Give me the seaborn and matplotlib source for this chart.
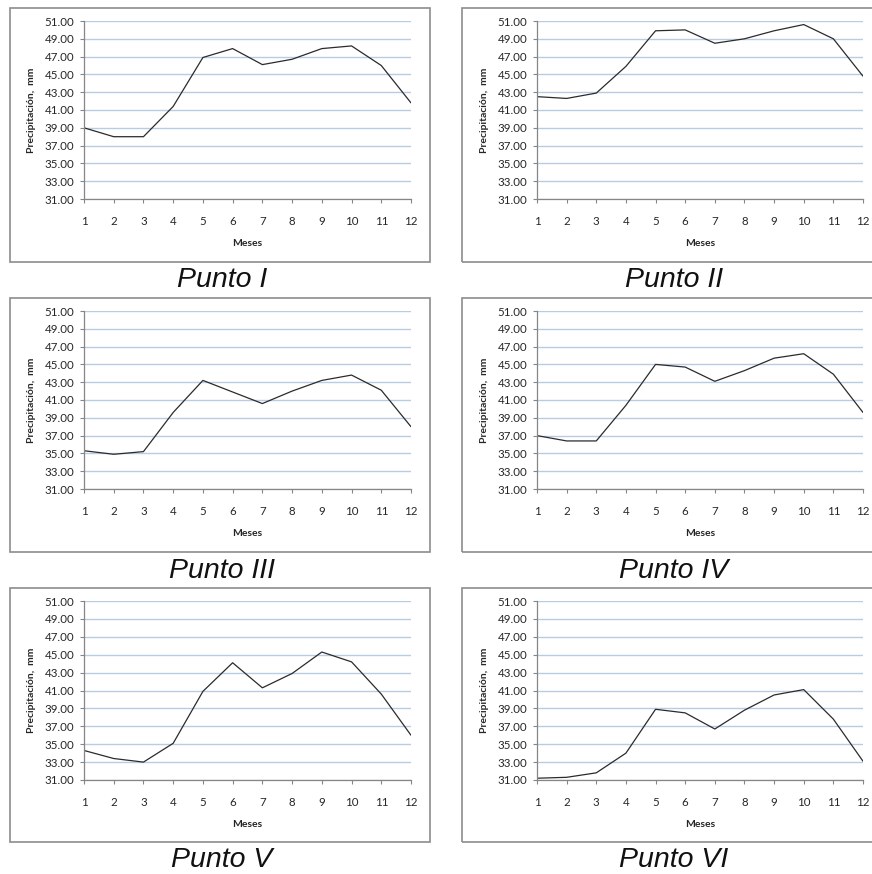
import matplotlib
import pandas as pd
import seaborn as sns
from matplotlib import pyplot as plt
from matplotlib.patches import Rectangle

matplotlib.use("Agg")

# monthly precipitation per station (mm)
meses = [1, 2, 3, 4, 5, 6, 7, 8, 9, 10, 11, 12]
punto_i = [39.0, 38.0, 38.0, 41.4, 46.9, 47.9, 46.1, 46.7, 47.9, 48.2, 46.0, 41.8]
punto_ii = [42.5, 42.3, 42.9, 45.9, 49.9, 50.0, 48.5, 49.0, 49.9, 50.6, 49.0, 44.8]
punto_iii = [35.3, 34.9, 35.2, 39.6, 43.2, 41.9, 40.6, 42.0, 43.2, 43.8, 42.1, 38.0]
punto_iv = [37.0, 36.4, 36.4, 40.4, 45.0, 44.7, 43.1, 44.3, 45.7, 46.2, 43.9, 39.6]
punto_v = [34.3, 33.4, 33.0, 35.1, 40.9, 44.1, 41.3, 42.9, 45.3, 44.2, 40.6, 36.0]
punto_vi = [31.2, 31.3, 31.8, 34.0, 38.9, 38.5, 36.7, 38.8, 40.5, 41.1, 37.8, 33.1]

titulos = ["Punto I", "Punto II", "Punto III", "Punto IV", "Punto V", "Punto VI"]
series = [punto_i, punto_ii, punto_iii, punto_iv, punto_v, punto_vi]
y_ticks = [31, 33, 35, 37, 39, 41, 43, 45, 47, 49, 51]

W, H = 872, 874
sns.set_style("white")
plt.rcParams["font.family"] = ["Lato", "DejaVu Sans"]

fig = plt.figure(figsize=(W / 100, H / 100), dpi=100)

# pixel layout: (axes left, axes right, box left, box right, title x) per column
cols = [(84, 411, 10, 430, 222), (537, 863, 462, 880, 674)]
# (axes top, axes bottom, box top, box bottom, title y) per row
rows = [(21, 199, 8, 262, 280), (311, 489, 298, 552, 571), (601, 780, 588, 842, 860)]

for i, (titulo, valores) in enumerate(zip(titulos, series)):
    ax_l, ax_r, bx_l, bx_r, tx = cols[i % 2]
    ax_t, ax_b, bx_t, bx_b, ty = rows[i // 2]

    # chart area border
    fig.patches.append(
        Rectangle(
            (bx_l / W, 1 - bx_b / H), (bx_r - bx_l) / W, (bx_b - bx_t) / H,
            transform=fig.transFigure, fill=False, edgecolor="#8c8c8c", linewidth=1.2,
        )
    )

    ax = fig.add_axes([ax_l / W, 1 - ax_b / H, (ax_r - ax_l) / W, (ax_b - ax_t) / H])
    df = pd.DataFrame({"Meses": meses, "Precipitación": valores})
    sns.lineplot(data=df, x="Meses", y="Precipitación", ax=ax, color="#2b2b2b", linewidth=0.9)

    ax.set_xlim(1, 12)
    ax.set_ylim(31, 51)
    ax.set_xticks(meses)
    ax.set_yticks(y_ticks)
    ax.set_yticklabels([f"{v:.2f}" for v in y_ticks])
    ax.grid(False)
    ax.yaxis.grid(True, color="#b8cce4", linewidth=1.0)
    ax.set_axisbelow(True)
    for s in ["top", "right"]:
        ax.spines[s].set_visible(False)
    for s in ["left", "bottom"]:
        ax.spines[s].set_color("#868686")
        ax.spines[s].set_linewidth(0.9)
    ax.tick_params(axis="both", which="major", length=3, width=0.8, color="#868686",
                   labelsize=8.3, labelcolor="#262626", direction="out",
                   left=True, bottom=True)
    ax.tick_params(axis="x", pad=9)
    ax.tick_params(axis="y", pad=4)
    ax.set_xlabel("Meses", fontsize=7.5, fontweight="bold", labelpad=9)
    ax.set_ylabel("Precipitación,  mm", fontsize=7.5, fontweight="bold", labelpad=6)

    fig.text(tx / W, 1 - ty / H, titulo, ha="center", va="center", fontsize=20.5,
             fontstyle="italic", color="#111111", family=["Liberation Sans", "DejaVu Sans"])

fig.savefig("out.png", dpi=100)
